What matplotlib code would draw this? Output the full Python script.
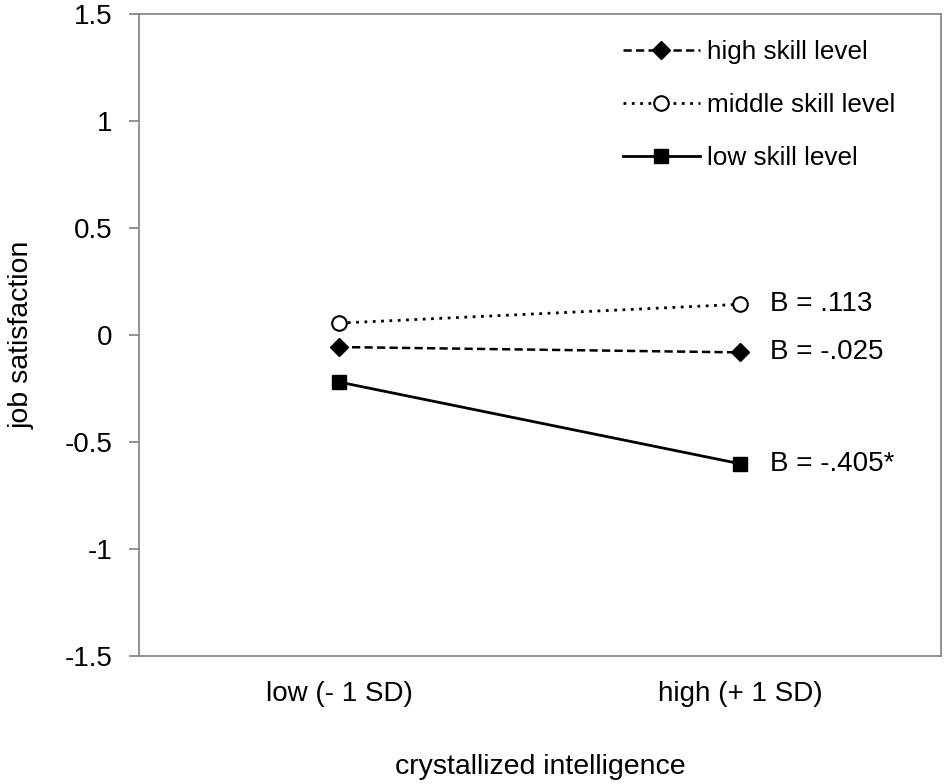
import matplotlib
matplotlib.use("Agg")
import matplotlib.pyplot as plt

plt.rcParams['font.family'] = ['Liberation Sans', 'DejaVu Sans']

categories = ["low (- 1 SD)", "high (+ 1 SD)"]
high_skill = [-0.057, -0.082]
middle_skill = [0.055, 0.143]
low_skill = [-0.221, -0.603]
b_labels = ["B = -.025", "B = .113", "B = -.405*"]
yticks = [-1.5, -1, -0.5, 0, 0.5, 1, 1.5]
ytick_labels = ["-1.5", "-1", "-0.5", "0", "0.5", "1", "1.5"]

fig = plt.figure(figsize=(9.45, 7.84), dpi=100)
ax = fig.add_axes([139/945, 1-655.7/784, 802/945, 641.7/784])

x = list(range(len(categories)))
ax.plot(x, high_skill, color='black', linestyle=(0, (3.3, 1.7)), linewidth=1.8,
        marker='D', markersize=9, markerfacecolor='black', markeredgecolor='black',
        label='high skill level')
ax.plot(x, middle_skill, color='black', linestyle=(0, (1, 2)), linewidth=2,
        marker='o', markersize=10.5, markerfacecolor='white', markeredgecolor='black',
        markeredgewidth=1.5, label='middle skill level')
ax.plot(x, low_skill, color='black', linestyle='-', linewidth=2,
        marker='s', markersize=9.5, markerfacecolor='black', markeredgecolor='black',
        label='low skill level')

for vals, lab in zip([high_skill, middle_skill, low_skill], b_labels):
    ax.annotate(lab, (x[-1], vals[-1]), xytext=(21, 0), textcoords='offset points',
                va='center', ha='left', fontsize=20)

ax.set_xlim(-0.5, 1.5)
ax.set_ylim(-1.5, 1.5)
ax.set_yticks(yticks)
ax.set_yticklabels(ytick_labels)
ax.set_xticks(x)
ax.set_xticklabels(categories)
ax.tick_params(axis='y', direction='out', length=7, width=1.2, color='#808080',
               labelsize=20, pad=12)
ax.tick_params(axis='x', length=0, labelsize=20, pad=18)
for s in ax.spines.values():
    s.set_color('#808080')
    s.set_linewidth(1.2)

ax.set_ylabel('job satisfaction', fontsize=20.5, labelpad=22)
ax.set_xlabel('crystallized intelligence', fontsize=20.5, labelpad=34)

leg = ax.legend(loc='upper left', bbox_to_anchor=(0.59, 0.975), frameon=False,
                fontsize=18.8, handlelength=2.95, handletextpad=0.3,
                labelspacing=1.1, borderaxespad=0)

fig.savefig('out.png', dpi=100)
